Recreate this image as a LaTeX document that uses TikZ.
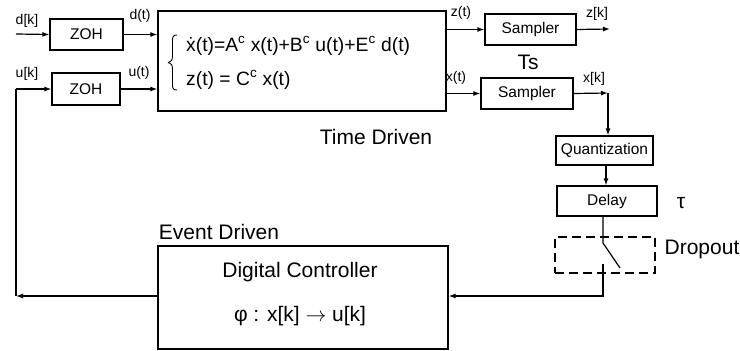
\documentclass[tikz,border=0pt]{standalone}
\usepackage{fontspec}
\setmainfont{Liberation Sans}
\usetikzlibrary{arrows.meta}

\begin{document}
\begin{tikzpicture}[x=1pt,y=-1pt]
\tikzstyle{block}=
[
	draw, line width=1.2pt, inner sep=0pt,
	font=\fontsize{15.5}{18}\selectfont
]
\tikzstyle{sig}=[font=\fontsize{14}{16}\selectfont, inner sep=0pt]
\tikzstyle{big}=[font=\fontsize{21}{25}\selectfont, inner sep=0pt]
\tikzstyle{eq}=[anchor=west, inner sep=0pt, font=\fontsize{19.3}{23}\selectfont]
\tikzstyle{wire}=[line width=1.2pt]
\tikzstyle{arr}=[wire, -{Latex[length=7pt,width=5pt]}]

\useasboundingbox (0,0) rectangle (740,351);

% time driven part
\node[block, minimum width=73pt, minimum height=31pt] (zoh1) at (86.5,34.5) {ZOH};
\node[block, minimum width=68pt, minimum height=32pt] (zoh2) at (86,89) {ZOH};
\node[block, minimum width=288pt, minimum height=100pt] (plant) at (302,61) {};
\node[eq] (eqx) at (186,46) {\.x(t)=A\textsuperscript{c} x(t)+B\textsuperscript{c} u(t)+E\textsuperscript{c} d(t)};
\node[eq] (eqz) at (186,80) {z(t) = C\textsuperscript{c} x(t)};
% brace
\draw[line width=0.9pt] (177,35) .. controls (172.5,35) and (172.5,37) .. (172.5,42) -- (172.5,56)
	.. controls (172.5,60) and (171,62) .. (168.5,62.5)
	.. controls (171,63) and (172.5,65) .. (172.5,69) -- (172.5,83)
	.. controls (172.5,88) and (172.5,90) .. (177,90);
\node[block, minimum width=91pt, minimum height=31pt] (samp1) at (530.5,29.5) {Sampler};
\node[block, minimum width=92pt, minimum height=31pt] (samp2) at (527,93.5) {Sampler};
\node[block, minimum width=97pt, minimum height=29pt] (quant) at (604.5,150.5) {Quantization};
\node[block, minimum width=100pt, minimum height=30pt] (delay) at (607,201) {Delay};
\node[block, dashed, dash pattern=on 9pt off 5pt, minimum width=100pt, minimum height=36pt] (drop) at (605,255) {};

% event driven part
\node[block, minimum width=290pt, minimum height=103pt] (ctrl) at (303,297.5) {};
\node[big] (ctrltitle) at (300,272) {Digital Controller};
\node[big] (ctrllaw) at (300,316) {φ : x[k] $\rightarrow$ u[k]};

% labels
\node[sig] (ldk) at (27,21) {d[k]};
\node[sig] (ldt) at (140,16) {d(t)};
\node[sig] (luk) at (27,74) {u[k]};
\node[sig] (lut) at (139,73) {u(t)};
\node[sig] (lzt) at (461,13) {z(t)};
\node[sig] (lzk) at (597,14) {z[k]};
\node[sig] (lxt) at (456,78) {x(t)};
\node[sig] (lxk) at (594,79) {x[k]};
\node[big] (lts) at (528,62) {Ts};
\node[big] (ltau) at (681,203) {τ};
\node[big] (ldrop) at (702,249) {Dropout};
\node[big] (ltime) at (376,137) {Time Driven};
\node[big] (levent) at (219,232) {Event Driven};

% connectors
\coordinate (dk) at (16,34);
\coordinate (fb) at (16,89);
\coordinate (fbl) at (16,296);
\coordinate (zk) at (610,29);
\coordinate (xk) at (608,93);
\coordinate (sw1) at (603,243);
\coordinate (sw2) at (603,264);
\coordinate (swl) at (620,268);
\coordinate (fbr) at (603,296);

\draw[arr] (dk) -- (zoh1.west);
\draw[arr] (zoh1.east) -- (plant.west |- zoh1.east);
\draw[arr] (fb) -- (zoh2.west);
\draw[arr] (zoh2.east) -- (plant.west |- zoh2.east);
\draw[arr] (plant.east |- samp1.west) -- (samp1.west);
\draw[arr] (samp1.east) -- (zk);
\draw[arr] (plant.east |- samp2.west) -- (samp2.west);
\draw[arr] (samp2.east) -- (xk);
\draw[arr] (xk) -- (xk |- quant.north);
\draw[arr] (quant.south -| 606,0) -- (delay.north -| 606,0);
\draw[wire] (sw1 |- delay.south) -- (sw1) -- (swl);
\draw[arr] (sw2) -- (fbr) -- (fbr -| ctrl.east);
\draw[arr] (ctrl.west |- fbl) -- (fbl);
\draw[wire] (fbl) -- (fb);
\end{tikzpicture}
\end{document}
